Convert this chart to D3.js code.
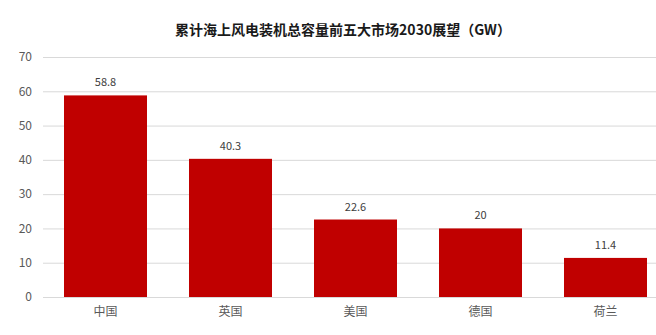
<!DOCTYPE html>
<html><head><meta charset="utf-8">
<script src="https://cdn.jsdelivr.net/npm/d3@7"></script>
<style>body{margin:0;background:#fff;}svg{display:block;}</style>
</head><body>
<svg id="c" width="656" height="335"></svg>
<script>
const categories = ["中国","英国","美国","德国","荷兰"];
const values = [58.8, 40.3, 22.6, 20, 11.4];
const valueLabels = ["58.8","40.3","22.6","20","11.4"];
const yTicks = [0,10,20,30,40,50,60,70];
const title = "累计海上风电装机总容量前五大市场2030展望（GW）";

(function(){
const svg = d3.select("#c");
const font = "'Noto Sans CJK SC','Noto Sans',sans-serif";
const mLeft = 43, mRight = 668, mTop = 57, mBottom = 297;
const x = d3.scaleBand().domain(categories).range([mLeft, mRight]).paddingInner(0.336).paddingOuter(0.168);
const y = d3.scaleLinear().domain([0,70]).range([mBottom, mTop]);

svg.append("text").attr("x", 343).attr("y", 35).attr("text-anchor","middle")
  .attr("font-family", font).attr("font-size", 14).attr("font-weight","bold").attr("fill","#1a1a1a").text(title);

const yAxis = svg.append("g").attr("transform", `translate(${mLeft},0)`)
  .call(d3.axisLeft(y).tickValues(yTicks).tickSize(-(656-mLeft)).tickPadding(11));
yAxis.select(".domain").remove();
yAxis.selectAll("line").attr("stroke","#d9d9d9").attr("stroke-width",1);
yAxis.selectAll("text").attr("font-family", font).attr("font-size", 12).attr("fill","#595959");

svg.append("g").selectAll("rect").data(values).join("rect")
  .attr("x",(d,i)=>x(categories[i])).attr("width", x.bandwidth())
  .attr("y", d=>y(d)).attr("height", d=>y(0)-y(d)).attr("fill","#c00000");

svg.append("g").selectAll("text").data(values).join("text")
  .attr("x",(d,i)=>x(categories[i])+x.bandwidth()/2).attr("y", d=>y(d)-9)
  .attr("text-anchor","middle").attr("font-family",font).attr("font-size",11).attr("fill","#404040")
  .text((d,i)=>valueLabels[i]);

const xAxis = svg.append("g").attr("transform",`translate(0,${mBottom})`)
  .call(d3.axisBottom(x).tickSize(0).tickPadding(10));
xAxis.select(".domain").remove();
xAxis.selectAll("text").attr("font-family",font).attr("font-size",12).attr("fill","#595959");
})();
</script>
</body></html>
